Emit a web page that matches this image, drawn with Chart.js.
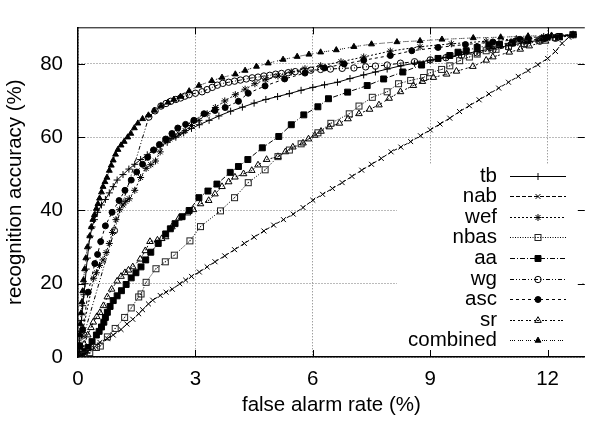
<!DOCTYPE html>
<html>
<head>
<meta charset="utf-8">
<script src="https://cdn.jsdelivr.net/npm/chart.js@4/dist/chart.umd.min.js"></script>
<style>
  html, body { margin: 0; padding: 0; background: #fff; overflow: hidden; }
  canvas { display: block; }
</style>
</head>
<body>
<canvas id="roc" width="590" height="421"></canvas>
<script>
// false alarm rate (%) / recognition accuracy (%) pairs
const tb = [[0,0],[0.03,3],[0.06,7],[0.09,10],[0.12,14],[0.15,17],[0.18,20],[0.21,24],[0.24,27],[0.27,30],[0.31,33],[0.36,35.5],[0.42,37.5],[0.5,39.5],[0.6,41.5],[0.7,43],[0.8,44.8],[0.9,46.5],[1.0,48.3],[1.15,49.8],[1.3,51.3],[1.45,52.6],[1.6,53.9],[1.77,55.2],[1.94,56.5],[2.1,57.6],[2.28,58.6],[2.5,60],[2.7,61.2],[2.9,62.4],[3.1,63.4],[3.35,64.6],[3.6,65.8],[3.9,67.1],[4.2,68.2],[4.5,69.3],[4.8,70.3],[5.1,71.1],[5.4,71.9],[5.7,72.8],[6.0,73.6],[6.3,74.3],[6.63,75],[6.95,76],[7.3,77],[7.6,77.8],[7.9,78.6],[8.25,79.5],[8.6,80.2],[9.0,81],[9.4,81.8],[9.8,82.6],[10.2,83.4],[10.6,84.2],[11.0,85],[11.4,85.8],[11.8,86.5],[12.2,87.3],[12.65,88]];
const nab = [[0,0],[0.1,0.5],[0.25,1.5],[0.4,2.5],[0.56,4],[0.75,5],[0.9,6],[1.1,7.5],[1.25,9],[1.4,10.3],[1.55,11.8],[1.65,12.9],[1.8,14.5],[1.91,15.5],[2.1,16.8],[2.25,17.7],[2.41,18.5],[2.6,20],[2.75,21],[2.9,22],[3.1,23.2],[3.3,24.6],[3.5,26],[3.75,27.6],[4,29.3],[4.25,31],[4.5,32.7],[4.75,34.4],[5,36],[5.25,37.5],[5.5,39],[5.75,40.8],[6,42.8],[6.25,44.4],[6.5,46],[6.75,47.6],[7,49.3],[7.25,51],[7.5,52.6],[7.75,54.2],[8,56],[8.25,57.3],[8.5,58.8],[8.75,60.4],[9,62],[9.25,63.6],[9.5,65.2],[9.75,67],[10,68.6],[10.25,70.2],[10.5,71.8],[10.75,73.4],[11,75],[11.25,76.6],[11.5,78.2],[11.75,79.8],[12,81.5],[12.2,83.4],[12.37,85.6],[12.54,87.3],[12.65,88]];
const wef = [[0,0],[0.04,2.5],[0.1,6],[0.4,21.5],[0.47,23],[0.55,25],[0.64,26.5],[0.72,28.5],[0.8,31],[0.88,34],[0.97,37.5],[1.06,40.2],[1.15,41.5],[1.22,42.5],[1.31,43.2],[1.45,45.5],[1.6,49],[1.74,51.5],[1.86,52.5],[1.98,53.5],[2.1,56],[2.24,59],[2.35,59.6],[2.45,60.2],[2.58,60.9],[2.74,61.8],[2.9,63.2],[3.09,64.6],[3.3,66.4],[3.51,68.1],[3.75,69.9],[4.02,71.6],[4.27,73.1],[4.52,74.6],[4.8,75.7],[5.11,76.7],[5.45,77.8],[5.8,78.7],[6.2,79.5],[6.72,80.6],[7.3,81.9],[7.98,83.5],[8.74,84.7],[9.54,85.5],[10.43,86.2],[11.2,86.9],[11.9,87.5],[12.65,88]];
const nbas = [[0,0],[0.15,0.5],[0.3,1.2],[0.47,2.6],[0.57,3],[0.75,5.5],[0.95,7.8],[1.19,10.8],[1.36,13.4],[1.55,16.4],[1.61,17.2],[1.74,20.4],[1.99,24.1],[2.23,26],[2.46,27.8],[2.86,31.7],[3.13,35.6],[3.64,39.9],[4.0,43.5],[4.35,47.6],[4.78,51.1],[5.11,54.7],[5.4,56.5],[5.7,58.2],[6.13,61.2],[6.46,63.8],[6.93,66.4],[7.18,68.5],[7.52,70.9],[7.9,72.4],[8.19,74.6],[8.5,75.5],[8.83,76.3],[9.0,77.6],[9.29,78.5],[9.5,79.5],[9.75,80.9],[10.0,81.9],[10.2,82.7],[10.43,83.6],[10.68,84],[11.0,84.8],[11.4,85.6],[11.8,86.5],[12.2,87.2],[12.65,88]];
const aa = [[0,0],[0.1,0.8],[0.18,1.6],[0.26,2.6],[0.36,4.2],[0.47,6],[0.54,7],[0.6,8.2],[0.66,9.5],[0.7,10.8],[0.75,12.2],[0.82,13.8],[0.9,15.4],[1.0,16.7],[1.11,18.1],[1.23,19.8],[1.36,21.6],[1.48,23],[1.61,24.6],[1.73,26.5],[1.86,28.6],[2.05,31],[2.24,33.6],[2.36,35],[2.48,36.4],[2.66,38.3],[2.84,40],[3.09,43.5],[3.32,45.3],[3.55,47.2],[3.89,50.4],[4.1,52],[4.34,53.9],[4.71,57.1],[5.13,60.2],[5.45,63.4],[5.77,66.1],[6.13,68.3],[6.4,70.5],[6.89,72.3],[7.39,74.1],[7.81,75.9],[8.3,77.8],[8.78,79.7],[9.2,81.5],[9.5,82.3],[9.71,83.2],[9.92,83.6],[10.2,84.5],[10.5,85],[10.77,85.3],[11.1,85.8],[11.5,86.4],[11.9,87],[12.3,87.5],[12.65,88]];
const wg = [[0,0],[0.15,6],[0.93,34.5],[1.81,65.5],[1.97,67.2],[2.12,68.5],[2.25,69.2],[2.37,69.8],[2.5,70.3],[2.62,70.7],[2.73,71.2],[2.84,71.6],[3.0,72],[3.17,72.4],[3.3,73],[3.43,73.6],[3.56,74.2],[3.7,74.7],[3.85,75],[4.0,75.3],[4.15,75.6],[4.3,75.9],[4.45,76.2],[4.6,76.4],[4.75,76.7],[4.9,76.9],[5.05,77.2],[5.2,77.4],[5.37,77.6],[5.55,77.9],[5.75,78.1],[5.95,78.3],[6.2,78.5],[6.45,78.6],[6.75,78.8],[7.05,78.9],[7.35,79.2],[7.6,79.4],[7.9,79.7],[8.24,80.2],[8.6,80.6],[9.0,81.1],[9.4,81.7],[9.8,82.3],[10.2,83],[10.6,83.8],[11.0,84.6],[11.4,85.4],[11.8,86.2],[12.2,87],[12.65,88]];
const asc = [[0,0],[0.05,3],[0.12,7.5],[0.26,17.7],[0.43,25.5],[0.5,28],[0.58,31.5],[0.7,35.8],[0.87,39.5],[1.05,42.7],[1.2,45.5],[1.36,48.3],[1.5,50.5],[1.65,52.6],[1.78,54.5],[1.93,56.5],[2.08,58],[2.24,59.5],[2.4,61],[2.55,62.5],[2.75,63.5],[2.96,64.6],[3.22,66.4],[3.5,67.3],[3.76,68.1],[4.1,69.8],[4.35,72],[4.78,74],[5.28,75.9],[5.8,77.5],[6.3,78.9],[6.8,80],[7.3,81],[7.98,82.3],[8.53,83.6],[9.2,84.5],[9.9,85.3],[10.6,86],[11.3,86.7],[12,87.3],[12.65,88]];
const sr = [[0,0],[0.08,1.5],[0.16,3.5],[0.25,6],[0.33,8],[0.39,9.5],[0.48,11],[0.56,12.1],[0.65,14],[0.75,16.4],[0.86,18.5],[1.0,20.7],[1.1,22],[1.2,23],[1.29,23.7],[1.4,24.6],[1.59,26.7],[1.72,29],[1.84,31.5],[2.03,31.9],[2.14,32.3],[2.24,32.8],[2.4,35.5],[2.58,37.9],[2.8,39.3],[2.95,40.2],[3.13,41.8],[3.34,42.7],[3.5,44.5],[3.68,46.5],[3.85,47.8],[4.01,49.1],[4.23,50],[4.44,50.9],[4.6,52.4],[4.82,53.9],[5.11,54.7],[5.3,56],[5.49,57.3],[5.75,58.4],[5.89,59.5],[6.05,60.5],[6.21,61.6],[6.42,62.8],[6.68,63.8],[6.9,65],[7.18,66.4],[7.45,67.6],[7.69,68.8],[7.95,70.6],[8.24,72.4],[8.57,74.1],[8.8,75.2],[9.08,76.3],[9.42,77.2],[9.67,78],[10.09,79.3],[10.43,81],[10.6,81.9],[11.02,83.2],[11.3,84],[11.53,84.9],[11.95,86.2],[12.3,87.1],[12.65,88]];
const combined = [[0,0],[0.02,3],[0.04,6],[0.06,9],[0.08,12],[0.1,15],[0.12,18],[0.14,21],[0.17,24],[0.2,27],[0.24,30],[0.3,33],[0.34,35.5],[0.38,37.5],[0.42,38.8],[0.47,40.5],[0.51,41.8],[0.55,43.3],[0.6,45],[0.64,46.5],[0.69,47.8],[0.74,49],[0.8,50.9],[0.85,52.3],[0.9,53.7],[0.96,55.3],[1.02,56.6],[1.1,57.8],[1.18,58.8],[1.27,60],[1.35,61],[1.44,62.5],[1.53,63.8],[1.65,65],[1.8,66],[1.95,67.3],[2.12,68.5],[2.3,69.5],[2.45,70.3],[2.62,71.1],[2.84,72.6],[3.09,74.1],[3.42,75.4],[3.68,76.3],[4.02,77.2],[4.27,78.2],[4.56,79.3],[4.86,80.2],[5.24,81.2],[5.6,82],[5.9,82.6],[6.2,83.2],[6.6,83.8],[7.05,84.7],[7.5,85.4],[8.15,86],[8.74,86.3],[9.3,86.7],[10.1,87.1],[10.8,87.3],[11.5,87.6],[12.1,87.8],[12.65,88]];

const seriesNames = ['tb', 'nab', 'wef', 'nbas', 'aa', 'wg', 'asc', 'sr', 'combined'];
const seriesData = [tb, nab, wef, nbas, aa, wg, asc, sr, combined];
const xTicks = [0, 3, 6, 9, 12];
const yTicks = [0, 20, 40, 60, 80];

const FONT = "'Liberation Sans', Arial, Helvetica, sans-serif";

// open square with the centre dot gnuplot puts in it
function squareDot() {
    var cv = document.createElement('canvas');
    cv.width = 9;
    cv.height = 9;
    var c = cv.getContext('2d');
    c.strokeStyle = '#222';
    c.lineWidth = 1;
    c.strokeRect(1.5, 1.5, 6, 6);
    c.fillStyle = '#222';
    c.fillRect(4, 4, 1, 1);
    return cv;
}

// per series look: dash, marker, marker size, filled?
const looks = [
    { dash: [], style: 'cross', r: 3.5, fill: false },
    { dash: [4, 2], style: 'crossRot', r: 3.5, fill: false },
    { dash: [2, 2], style: 'star', r: 3.5, fill: false },
    { dash: [1, 1.5], style: squareDot(), r: 4, fill: false },
    { dash: [5, 2, 1, 2], style: 'rect', r: 4.2, fill: true },
    { dash: [4, 2, 1, 2, 1, 2], style: 'circle', r: 3.2, fill: false },
    { dash: [3, 3], style: 'circle', r: 3, fill: true },
    { dash: [2, 1, 2, 3], style: 'triangle', r: 3.8, fill: false },
    { dash: [1, 1, 1, 1, 1, 3], style: 'triangle', r: 3.4, fill: true }
];

const datasets = seriesData.map(function (arr, i) {
    var lk = looks[i];
    return {
        label: seriesNames[i],
        data: arr.map(function (p) { return { x: p[0], y: p[1] }; }),
        showLine: true,
        borderColor: '#000',
        borderWidth: 1,
        borderDash: lk.dash,
        tension: 0,
        pointStyle: lk.style,
        pointRadius: lk.r,
        pointBorderColor: '#000',
        pointBorderWidth: 1,
        pointBackgroundColor: lk.fill ? '#000' : 'rgba(0,0,0,0)'
    };
});

// legend box position (inside the plot, bottom right, like gnuplot)
const legendBox = { left: 397, top: 165, right: 581, textX: 497, lineFrom: 510, lineTo: 566, markX: 538, firstY: 175.5, step: 20.6 };

const gnuplotFrame = {
    id: 'gnuplotFrame',
    beforeDatasetsDraw: function (chart) {
        var ctx = chart.ctx, a = chart.chartArea;
        ctx.save();
        ctx.fillStyle = '#fff';
        ctx.fillRect(legendBox.left, legendBox.top, legendBox.right - legendBox.left, a.bottom - legendBox.top - 1);
        ctx.restore();
    },
    afterDraw: function (chart) {
        var ctx = chart.ctx, a = chart.chartArea;
        var xs = chart.scales.x, ys = chart.scales.y;
        ctx.save();
        ctx.strokeStyle = '#000';
        ctx.lineWidth = 1;
        // top border
        ctx.beginPath();
        ctx.moveTo(a.left, a.top + 0.5);
        ctx.lineTo(a.right, a.top + 0.5);
        ctx.stroke();
        // inward ticks, mirrored
        ctx.beginPath();
        xTicks.forEach(function (v) {
            if (v === 0) return;
            var px = Math.round(xs.getPixelForValue(v)) + 0.5;
            ctx.moveTo(px, a.bottom); ctx.lineTo(px, a.bottom - 7);
            ctx.moveTo(px, a.top); ctx.lineTo(px, a.top + 7);
        });
        yTicks.forEach(function (v) {
            if (v === 0) return;
            var py = Math.round(ys.getPixelForValue(v)) + 0.5;
            ctx.moveTo(a.left, py); ctx.lineTo(a.left + 7, py);
            ctx.moveTo(a.right, py); ctx.lineTo(a.right - 7, py);
        });
        ctx.stroke();

        // legend
        ctx.font = '20.5px ' + FONT;
        ctx.textAlign = 'right';
        ctx.textBaseline = 'middle';
        ctx.fillStyle = '#000';
        chart.data.datasets.forEach(function (ds, i) {
            var y = legendBox.firstY + i * legendBox.step;
            ctx.fillText(ds.label, legendBox.textX, y + 0.5);
            ctx.save();
            ctx.setLineDash(ds.borderDash);
            ctx.beginPath();
            ctx.moveTo(legendBox.lineFrom, Math.round(y) + 0.5);
            ctx.lineTo(legendBox.lineTo, Math.round(y) + 0.5);
            ctx.stroke();
            ctx.setLineDash([]);
            ctx.fillStyle = ds.pointBackgroundColor;
            ctx.strokeStyle = '#000';
            ctx.lineWidth = 1;
            if (Chart.helpers && Chart.helpers.drawPoint) {
                Chart.helpers.drawPoint(ctx, {
                    pointStyle: ds.pointStyle,
                    rotation: 0,
                    radius: ds.pointRadius,
                    borderWidth: 1
                }, legendBox.markX, Math.round(y) + 0.5);
            }
            ctx.restore();
        });
        ctx.restore();
    }
};

Chart.defaults.font.family = FONT;
Chart.defaults.color = '#000';

new Chart(document.getElementById('roc'), {
    type: 'scatter',
    data: { datasets: datasets },
    options: {
        responsive: false,
        animation: false,
        devicePixelRatio: 1,
        layout: { padding: { top: 8, right: 0, left: 0, bottom: 0 } },
        plugins: {
            legend: { display: false },
            tooltip: { enabled: false }
        },
        scales: {
            x: {
                type: 'linear',
                min: 0,
                max: 12.95,
                afterBuildTicks: function (s) { s.ticks = xTicks.map(function (v) { return { value: v }; }); },
                afterFit: function (s) { s.height = 64; },
                grid: { color: '#777', lineWidth: 1, drawTicks: false },
                border: { display: true, color: '#000', width: 1.5, dash: [1, 2] },
                ticks: { font: { size: 20.5 }, color: '#000', padding: 10, maxRotation: 0 },
                title: { display: true, text: 'false alarm rate (%)', font: { size: 20.5 }, color: '#000', padding: { top: 0, bottom: 3 } }
            },
            y: {
                type: 'linear',
                min: 0,
                max: 90,
                afterBuildTicks: function (s) { s.ticks = yTicks.map(function (v) { return { value: v }; }); },
                afterFit: function (s) { s.width = 78; },
                grid: { color: '#777', lineWidth: 1, drawTicks: false },
                border: { display: true, color: '#000', width: 1.5, dash: [1, 2] },
                ticks: { font: { size: 20.5 }, color: '#000', padding: 15 },
                title: { display: true, text: 'recognition accuracy (%)', font: { size: 20.5 }, color: '#000', padding: { top: 3, bottom: 0 } }
            }
        }
    },
    plugins: [gnuplotFrame]
});
</script>
</body>
</html>
